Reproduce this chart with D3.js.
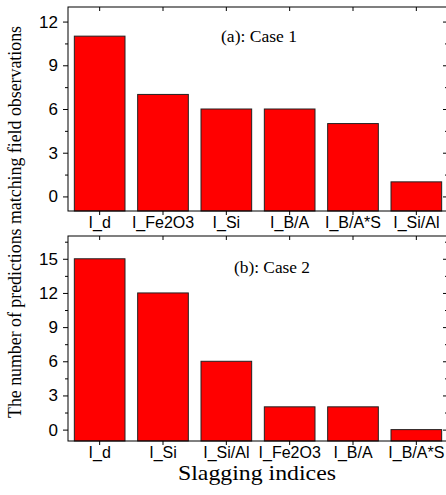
<!DOCTYPE html>
<html>
<head>
<meta charset="utf-8">
<script src="https://cdn.jsdelivr.net/npm/d3@7"></script>
<style>
  body { margin: 0; background: #fff; }
  svg { display: block; }
  .sans { font-family: "Liberation Sans", Arial, sans-serif; }
  .serif { font-family: "Liberation Serif", "Times New Roman", serif; }
</style>
</head>
<body>
<div id="chart"></div>
<script>
// Case 1 data
const case1Categories = ["I_d", "I_Fe2O3", "I_Si", "I_B/A", "I_B/A*S", "I_Si/Al"];
const case1Values = [11, 7, 6, 6, 5, 1];
const case1MajorTicks = [0, 3, 6, 9, 12];
const case1MinorTicks = [1.5, 4.5, 7.5, 10.5];

// Case 2 data
const case2Categories = ["I_d", "I_Si", "I_Si/Al", "I_Fe2O3", "I_B/A", "I_B/A*S"];
const case2Values = [15, 12, 6, 2, 2, 0];
const case2MajorTicks = [0, 3, 6, 9, 12, 15];
const case2MinorTicks = [1.5, 4.5, 7.5, 10.5, 13.5, 16.5];

const width = 446, height = 495;
const left = 68, right = 448;

const svg = d3.select("#chart").append("svg")
  .attr("width", width)
  .attr("height", height);

function drawPanel(cats, vals, yDomain, majors, minors, top, bottom, title, titleX, titleY) {
  const x = d3.scaleBand()
    .domain(cats)
    .range([left, right])
    .paddingInner(0.2)
    .paddingOuter(0.1);

  const y = d3.scaleLinear()
    .domain(yDomain)
    .range([bottom, top]);

  const g = svg.append("g");

  // bars, from the frame bottom up
  g.selectAll("rect.bar")
    .data(vals)
    .join("rect")
    .attr("class", "bar")
    .attr("x", (d, i) => x(cats[i]))
    .attr("y", d => y(d))
    .attr("width", x.bandwidth())
    .attr("height", d => bottom - y(d))
    .attr("fill", "#ff0000")
    .attr("stroke", "#222")
    .attr("stroke-width", 1);

  // left axis, major with labels
  g.append("g")
    .attr("transform", `translate(${left},0)`)
    .call(d3.axisLeft(y).tickValues(majors).tickSize(5).tickPadding(5))
    .call(a => a.select(".domain").remove())
    .call(a => a.selectAll("text")
      .attr("class", "sans")
      .style("font-size", "17px")
      .attr("fill", "#000"));

  // left minor ticks
  g.append("g")
    .attr("transform", `translate(${left},0)`)
    .call(d3.axisLeft(y).tickValues(minors).tickSize(3).tickFormat(""))
    .call(a => a.select(".domain").remove());

  // right axis ticks, pointing in
  g.append("g")
    .attr("transform", `translate(${right},0)`)
    .call(d3.axisLeft(y).tickValues(majors).tickSize(5).tickFormat(""))
    .call(a => a.select(".domain").remove());
  g.append("g")
    .attr("transform", `translate(${right},0)`)
    .call(d3.axisLeft(y).tickValues(minors).tickSize(3).tickFormat(""))
    .call(a => a.select(".domain").remove());

  // bottom axis with category labels
  g.append("g")
    .attr("transform", `translate(0,${bottom})`)
    .call(d3.axisBottom(x).tickSize(4).tickPadding(2))
    .call(a => a.select(".domain").remove())
    .call(a => a.selectAll("text")
      .attr("class", "sans")
      .style("font-size", "16px")
      .attr("fill", "#000"));

  // top ticks, pointing in
  g.append("g")
    .attr("transform", `translate(0,${top})`)
    .call(d3.axisBottom(x).tickSize(4).tickFormat(""))
    .call(a => a.select(".domain").remove());

  // frame
  g.append("rect")
    .attr("x", left)
    .attr("y", top)
    .attr("width", right - left)
    .attr("height", bottom - top)
    .attr("fill", "none")
    .attr("stroke", "#000")
    .attr("stroke-width", 1);

  g.append("text")
    .attr("class", "serif")
    .attr("x", titleX)
    .attr("y", titleY)
    .attr("text-anchor", "middle")
    .attr("textLength", 76)
    .attr("lengthAdjust", "spacingAndGlyphs")
    .style("font-size", "16px")
    .text(title);
}

drawPanel(case1Categories, case1Values, [-1, 13], case1MajorTicks, case1MinorTicks,
  7, 211, "(a): Case 1", 259, 42);
drawPanel(case2Categories, case2Values, [-1, 17], case2MajorTicks, case2MinorTicks,
  236, 441, "(b): Case 2", 272, 273);

// shared axis titles
svg.append("text")
  .attr("class", "serif")
  .attr("transform", "translate(21,222) rotate(-90)")
  .attr("text-anchor", "middle")
  .attr("textLength", 392)
  .attr("lengthAdjust", "spacingAndGlyphs")
  .style("font-size", "18px")
  .text("The number of predictions matching field observations");

svg.append("text")
  .attr("class", "serif")
  .attr("x", 257)
  .attr("y", 480)
  .attr("text-anchor", "middle")
  .attr("textLength", 158)
  .attr("lengthAdjust", "spacingAndGlyphs")
  .style("font-size", "21px")
  .text("Slagging indices");
</script>
</body>
</html>
